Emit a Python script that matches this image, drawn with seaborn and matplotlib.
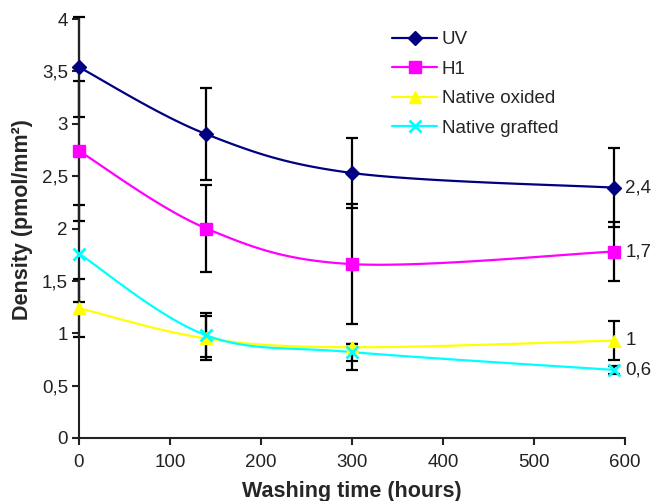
import numpy as np
import matplotlib
matplotlib.use("Agg")
import matplotlib.pyplot as plt
from matplotlib.lines import Line2D
import seaborn as sns
import pandas as pd

# ---- data ----
hours = [0, 140, 300, 588]
uv = [3.54, 2.90, 2.53, 2.39]
h1 = [2.74, 2.00, 1.66, 1.78]
nat_ox = [1.24, 0.95, 0.866, 0.93]
nat_gr = [1.76, 0.98, 0.82, 0.65]
uv_err = [0.48, 0.44, 0.33, 0.38]
h1_err = [0.67, 0.42, 0.57, 0.28]
ox_err_lo = [0.28, 0.21, 0.13, 0.19]
ox_err_hi = [0.28, 0.21, 0.035, 0.19]
gr_err_lo = [0.46, 0.21, 0.17, 0.04]
gr_err_hi = [0.46, 0.21, 0.08, 0.04]
series_names = ["UV", "H1", "Native oxided", "Native grafted"]
end_labels = ["2,4", "1,7", "1", "0,6"]
x_ticks = [0, 100, 200, 300, 400, 500, 600]
y_ticks = [0, 0.5, 1, 1.5, 2, 2.5, 3, 3.5, 4]
y_tick_labels = ["0", "0,5", "1", "1,5", "2", "2,5", "3", "3,5", "4"]

colors = ["#000080", "#FF00FF", "#FFFF00", "#00FFFF"]
markers = ["D", "s", "^", "x"]
msizes = [7.5, 8, 8.5, 9]

sns.set_style("ticks")
plt.rcParams['font.family'] = ['Liberation Sans', 'DejaVu Sans']

fig = plt.figure(figsize=(6.56, 5.01), dpi=100)
ax = fig.add_axes([79/656, 63/501, 546/656, 419/501])
ax.set_xlim(0, 600)
ax.set_ylim(0, 4)

# pixel scale used for Excel-like smoothing
sx, sy = 546/600, 419/4


def smooth(x, y, n=40):
    P = np.column_stack([np.asarray(x, float) * sx, np.asarray(y, float) * sy])
    m = len(P)
    out = []
    for i in range(m - 1):
        p0 = P[max(i - 1, 0)]
        p1 = P[i]
        p2 = P[i + 1]
        p3 = P[min(i + 2, m - 1)]
        c1 = p1 + (p2 - p0) / 6
        c2 = p2 - (p3 - p1) / 6
        t = np.linspace(0, 1, n)[:, None]
        seg = ((1 - t) ** 3) * p1 + 3 * ((1 - t) ** 2) * t * c1 + 3 * (1 - t) * t ** 2 * c2 + t ** 3 * p2
        out.append(seg if i == 0 else seg[1:])
    S = np.vstack(out)
    return S[:, 0] / sx, S[:, 1] / sy


vals = [uv, h1, nat_ox, nat_gr]
errs = [(uv_err, uv_err), (h1_err, h1_err), (ox_err_lo, ox_err_hi), (gr_err_lo, gr_err_hi)]

# error bars
for v, (lo, hi) in zip(vals, errs):
    ax.errorbar(hours, v, yerr=[lo, hi], fmt='none', ecolor='black',
                elinewidth=1.6, capsize=4.5, capthick=1.6, zorder=2, clip_on=False)

# smoothed lines
for v, c in zip(vals, colors):
    xs, ys = smooth(hours, v)
    df = pd.DataFrame({"x": xs, "y": ys})
    sns.lineplot(data=df, x="x", y="y", sort=False, estimator=None, color=c,
                 linewidth=1.6, ax=ax, zorder=3)

# markers
for v, c, m, s in zip(vals, colors, markers, msizes):
    ax.plot(hours, v, linestyle='none', marker=m, color=c, markersize=s,
            markeredgewidth=2 if m == 'x' else 1, zorder=4, clip_on=False)

# end labels
for v, lab in zip(vals, end_labels):
    ax.annotate(lab, (hours[-1], v[-1]), xytext=(8, 0), textcoords='offset points',
                ha='left', va='center', fontsize=13.5, color='#222222', annotation_clip=False)

ax.set_xticks(x_ticks)
ax.set_xticklabels([str(t) for t in x_ticks])
ax.set_yticks(y_ticks)
ax.set_yticklabels(y_tick_labels)
ax.tick_params(axis='both', labelsize=13.5, width=1.5, length=5, color='#222222',
               labelcolor='#222222', direction='out')
ax.tick_params(axis='x', pad=6.5)
ax.tick_params(axis='y', pad=3)
for sp in ['top', 'right']:
    ax.spines[sp].set_visible(False)
for sp in ['left', 'bottom']:
    ax.spines[sp].set_linewidth(1.5)
    ax.spines[sp].set_color('#222222')

ax.set_xlabel("Washing time (hours)", fontsize=15.5, fontweight='bold', labelpad=7)
ax.set_ylabel("Density (pmol/mm²)", fontsize=15.5, fontweight='bold')
ax.yaxis.set_label_coords((33 - 79) / 546, (438 - 220) / 419)

handles = [Line2D([0], [0], color=c, marker=m, markersize=s, linewidth=1.6,
                  markeredgewidth=2 if m == 'x' else 1)
           for c, m, s in zip(colors, markers, msizes)]
leg = fig.legend(handles, series_names, loc='upper left', bbox_to_anchor=(392/656, 1 - 31/501),
                 frameon=False, fontsize=13.5, handlelength=2.4, handletextpad=0.25,
                 labelspacing=0.66, borderpad=0, borderaxespad=0)

fig.savefig("out.png", dpi=100)
